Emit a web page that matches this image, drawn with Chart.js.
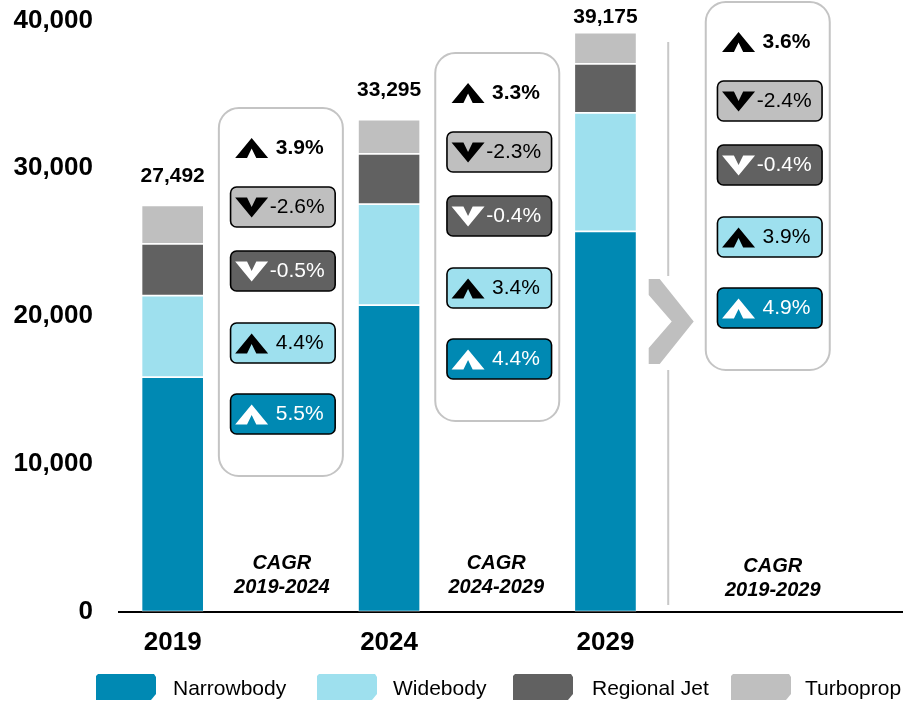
<!DOCTYPE html>
<html><head><meta charset="utf-8">
<script src="https://cdn.jsdelivr.net/npm/chart.js@4.4.1/dist/chart.umd.min.js"></script>
<style>html,body{margin:0;padding:0;background:#fff;}#wrap{width:903px;height:703px;position:relative;}</style>
</head><body><div id="wrap"><canvas id="c" width="903" height="703"></canvas></div>
<script>
// ---------- data ----------
const years = ['2019', '2024', '2029'];
const narrowbody = [15870, 20740, 25730];
const widebody = [5515, 6840, 8010];
const regionalJet = [3500, 3400, 3320];
const turboprop = [2607, 2315, 2115];
const totals = [27492, 33295, 39175];
const yTicks = [0, 10000, 20000, 30000, 40000];
const seriesNames = ['Narrowbody', 'Widebody', 'Regional Jet', 'Turboprop'];
const cagrPeriods = ['2019-2024', '2024-2029', '2019-2029'];
const cagrTotal = [3.9, 3.3, 3.6];
const cagrTurboprop = [-2.6, -2.3, -2.4];
const cagrRegionalJet = [-0.5, -0.4, -0.4];
const cagrWidebody = [4.4, 3.4, 3.9];
const cagrNarrowbody = [5.5, 4.4, 4.9];

// ---------- styles / layout ----------
const FONT = "'Liberation Sans', Arial, Helvetica, sans-serif";
const C_NB = '#0089B3', C_WB = '#9EE0EE', C_RJ = '#616161', C_TP = '#BFBFBF';
const BOX = { xValues: [0.5, 1.5, 2.75], tops: [108, 53, 2], width: 124, height: 368,
  captionY: [563, 563, 566], captionDx: [1, -1, 5] };
const PILL_OFFSETS = [79, 143, 215, 286];
const DIVIDER_VALUE = 2.29;
const LEGEND = { swatchX: [96, 317, 513, 731], textX: [173, 393, 592, 805], y: 674, w: 60, h: 26 };

function pts(vals) { return vals.map((v, i) => ({ x: i, y: v })); }

function roundRect(ctx, x, y, w, h, r) {
  ctx.beginPath();
  ctx.moveTo(x + r, y);
  ctx.arcTo(x + w, y, x + w, y + h, r);
  ctx.arcTo(x + w, y + h, x, y + h, r);
  ctx.arcTo(x, y + h, x, y, r);
  ctx.arcTo(x, y, x + w, y, r);
  ctx.closePath();
}
function chevron(ctx, x, y, w, h, up, color) {
  ctx.beginPath();
  if (up) {
    ctx.moveTo(x, y + h); ctx.lineTo(x + w / 2, y); ctx.lineTo(x + w, y + h);
    ctx.lineTo(x + w * 0.64, y + h); ctx.lineTo(x + w / 2, y + h * 0.52); ctx.lineTo(x + w * 0.36, y + h);
  } else {
    ctx.moveTo(x, y); ctx.lineTo(x + w / 2, y + h); ctx.lineTo(x + w, y);
    ctx.lineTo(x + w * 0.64, y); ctx.lineTo(x + w / 2, y + h * 0.48); ctx.lineTo(x + w * 0.36, y);
  }
  ctx.closePath();
  ctx.fillStyle = color; ctx.fill();
}
function fmt(v) { return (v > 0 ? ' ' : '') + v.toFixed(1) + '%'; }

const decor = {
  id: 'decor',
  afterDraw(chart) {
    const ctx = chart.ctx, xs = chart.scales.x, ys = chart.scales.y;
    ctx.save();
    // totals
    ctx.fillStyle = '#000'; ctx.textAlign = 'center'; ctx.textBaseline = 'middle';
    ctx.font = 'bold 21px ' + FONT;
    totals.forEach((t, i) => {
      const y = Math.max(17, ys.getPixelForValue(t) - 29.5);
      ctx.fillText(t.toLocaleString('en-US'), xs.getPixelForValue(i), y);
    });
    // divider + big chevron
    const dx = xs.getPixelForValue(DIVIDER_VALUE);
    ctx.strokeStyle = '#C8C8C8'; ctx.lineWidth = 2;
    ctx.beginPath(); ctx.moveTo(dx, 42); ctx.lineTo(dx, 276); ctx.moveTo(dx, 370); ctx.lineTo(dx, 605); ctx.stroke();
    const cx0 = dx - 19.5, cy0 = 279;
    ctx.beginPath();
    [[0,0],[11,0],[45,42.5],[11,85],[0,85],[0,69],[23,42.5],[0,16]].forEach((p, k) => {
      k ? ctx.lineTo(cx0 + p[0], cy0 + p[1]) : ctx.moveTo(cx0 + p[0], cy0 + p[1]);
    });
    ctx.closePath(); ctx.fillStyle = '#BFBFBF'; ctx.fill();
    // CAGR boxes
    const rows = [
      { vals: cagrTurboprop, fill: C_TP, fg: '#000' },
      { vals: cagrRegionalJet, fill: C_RJ, fg: '#fff' },
      { vals: cagrWidebody, fill: C_WB, fg: '#000' },
      { vals: cagrNarrowbody, fill: C_NB, fg: '#fff' }
    ];
    BOX.xValues.forEach((xv, i) => {
      const cx = xs.getPixelForValue(xv);
      const bx = cx - BOX.width / 2, by = BOX.tops[i];
      roundRect(ctx, bx, by, BOX.width, BOX.height, 20);
      ctx.fillStyle = '#fff'; ctx.fill();
      ctx.strokeStyle = '#C4C4C4'; ctx.lineWidth = 2; ctx.stroke();
      chevron(ctx, bx + 16.3, by + 30, 33, 20, cagrTotal[i] > 0, '#000');
      ctx.fillStyle = '#000'; ctx.textAlign = 'left'; ctx.textBaseline = 'middle';
      ctx.font = 'bold 21px ' + FONT;
      ctx.fillText(fmt(cagrTotal[i]), bx + 51, by + 40);
      rows.forEach((r, k) => {
        const py = by + PILL_OFFSETS[k];
        roundRect(ctx, bx + 11.7, py, 104.6, 40, 6);
        ctx.fillStyle = r.fill; ctx.fill();
        ctx.strokeStyle = '#000'; ctx.lineWidth = 1.6; ctx.stroke();
        chevron(ctx, bx + 16.3, py + 10.5, 33, 20, r.vals[i] > 0, r.fg);
        ctx.fillStyle = r.fg; ctx.font = '21px ' + FONT;
        ctx.fillText(fmt(r.vals[i]), bx + 51, py + 20.5);
      });
      ctx.fillStyle = '#000'; ctx.textAlign = 'center';
      ctx.font = 'italic bold 20px ' + FONT;
      ctx.fillText('CAGR', cx + BOX.captionDx[i], BOX.captionY[i]);
      ctx.fillText(cagrPeriods[i], cx + BOX.captionDx[i], BOX.captionY[i] + 24.5);
    });
    // legend
    chart.data.datasets.forEach((ds, i) => {
      const x = LEGEND.swatchX[i], y = LEGEND.y, w = LEGEND.w, h = LEGEND.h;
      ctx.beginPath();
      ctx.moveTo(x + 2, y); ctx.lineTo(x + w - 2, y); ctx.lineTo(x + w, y + 3);
      ctx.lineTo(x + w, y + h - 6); ctx.lineTo(x + w - 5, y + h); ctx.lineTo(x, y + h); ctx.lineTo(x, y + 2);
      ctx.closePath(); ctx.fillStyle = ds.backgroundColor; ctx.fill();
      ctx.fillStyle = '#000'; ctx.textAlign = 'left'; ctx.textBaseline = 'middle';
      ctx.font = '21px ' + FONT;
      ctx.fillText(ds.label, LEGEND.textX[i], y + 15);
    });
    ctx.restore();
  }
};

const common = { borderColor: '#fff', borderWidth: { top: 1.2, bottom: 1.2, left: 0.5, right: 0.5 },
  borderSkipped: false, barThickness: 61 };

new Chart(document.getElementById('c'), {
  type: 'bar',
  data: {
    datasets: [
      { label: seriesNames[0], data: pts(narrowbody), backgroundColor: C_NB, ...common },
      { label: seriesNames[1], data: pts(widebody), backgroundColor: C_WB, ...common },
      { label: seriesNames[2], data: pts(regionalJet), backgroundColor: C_RJ, ...common },
      { label: seriesNames[3], data: pts(turboprop), backgroundColor: C_TP, ...common }
    ]
  },
  options: {
    responsive: false, animation: false, devicePixelRatio: 1,
    layout: { padding: { top: 20.5, left: 0, right: 0, bottom: 0 } },
    plugins: { legend: { display: false }, tooltip: { enabled: false } },
    scales: {
      x: {
        type: 'linear', min: -0.248, max: 3.375, stacked: true, offset: false, bounds: 'data',
        grid: { display: false, drawTicks: false, offset: false },
        border: { display: true, color: '#000', width: 2 },
        afterBuildTicks: s => { s.ticks = years.map((_, i) => ({ value: i })); },
        afterFit: s => { s.height = 91.5; s.paddingLeft = 0; s.paddingRight = 0; },
        ticks: { autoSkip: false, maxRotation: 0, padding: 16, color: '#000',
          font: { family: FONT, size: 26, weight: 'bold' },
          callback: v => years[v] !== undefined ? years[v] : '' }
      },
      y: {
        min: 0, max: 40000, stacked: true,
        grid: { display: false, drawTicks: false },
        border: { display: false },
        afterBuildTicks: s => { s.ticks = yTicks.map(v => ({ value: v })); },
        afterFit: s => { s.width = 119; s.paddingTop = 0; s.paddingBottom = 0; },
        ticks: { padding: 26, color: '#000', font: { family: FONT, size: 26, weight: 'bold' },
          callback: v => v.toLocaleString('en-US') }
      }
    }
  },
  plugins: [decor]
});
</script></body></html>
